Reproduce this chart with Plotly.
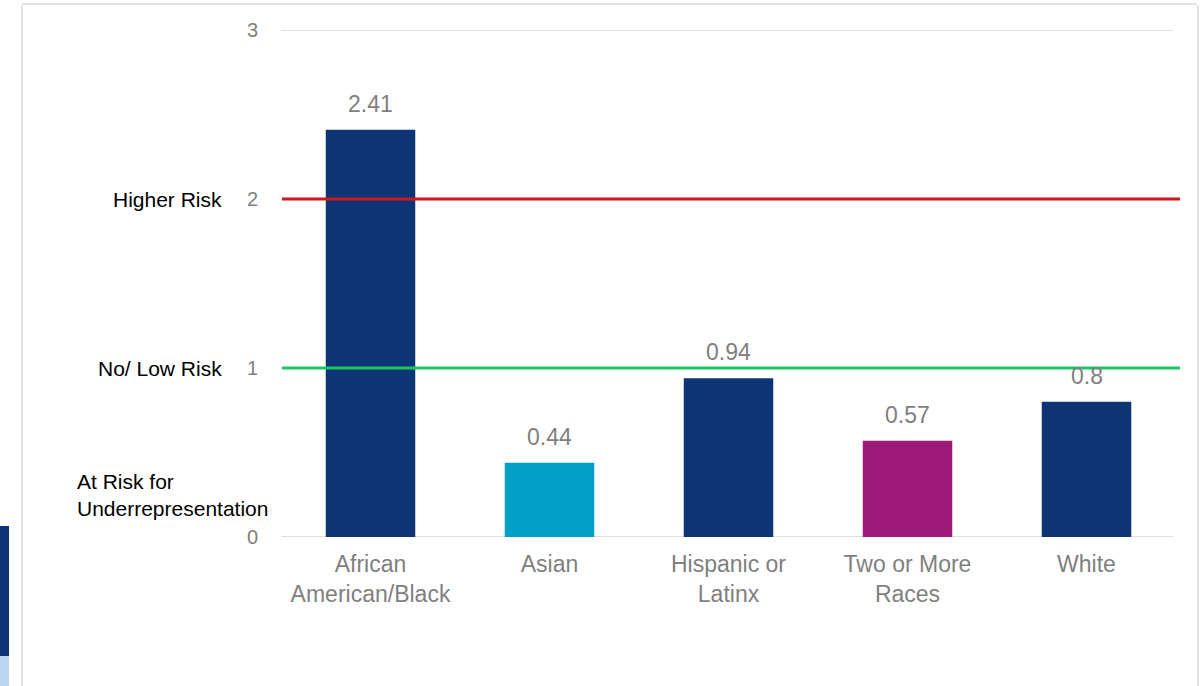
import plotly.graph_objects as go

# Representation index by race/ethnicity
categories = ["African<br>American/Black", "Asian", "Hispanic or<br>Latinx",
              "Two or More<br>Races", "White"]
values = [2.41, 0.44, 0.94, 0.57, 0.8]
value_labels = ["2.41", "0.44", "0.94", "0.57", "0.8"]
bar_colors = ["#0d3475", "#00a0c9", "#0d3475", "#9e1a7a", "#0d3475"]

y_ticks = [0, 1, 2, 3]
y_tick_text = ["0", "1", "2", "3"]
grid_values = [0, 3]

# Threshold reference lines
thresholds = [2, 1]
threshold_colors = ["#c81a1e", "#1cc566"]

# Risk band labels on the left
band_labels = ["Higher Risk", "No/ Low Risk", "At Risk for<br>Underrepresentation"]
band_y = [2, 1, 0.25]

FONT = "Arial, Liberation Sans, sans-serif"
GRAY = "#7f7f7f"

fig = go.Figure()
fig.add_trace(go.Bar(
    x=categories, y=values,
    marker=dict(color=bar_colors, line=dict(width=0)),
    width=0.5,
    hoverinfo="skip",
))

L, R, T, B = 281, 28, 30, 149
W, H = 1204, 686
plot_w = W - L - R
plot_h = H - T - B


def px_x(px):
    return (px - L) / plot_w


def px_y(py):
    return (H - B - py) / plot_h


annotations = []
for cat, v, lab in zip(categories, values, value_labels):
    annotations.append(dict(
        x=cat, y=v, xref="x", yref="y", text=lab, showarrow=False,
        yanchor="bottom", yshift=11,
        font=dict(family=FONT, size=23, color=GRAY),
    ))

# Band labels
annotations.append(dict(x=px_x(224), y=band_y[0], xref="paper", yref="y", text=band_labels[0],
                        showarrow=False, xanchor="right", yanchor="middle",
                        font=dict(family=FONT, size=21, color="#000000")))
annotations.append(dict(x=px_x(224), y=band_y[1], xref="paper", yref="y", text=band_labels[1],
                        showarrow=False, xanchor="right", yanchor="middle",
                        font=dict(family=FONT, size=21, color="#000000")))
annotations.append(dict(x=px_x(75), y=band_y[2], xref="paper", yref="y", text=band_labels[2],
                        showarrow=False, xanchor="left", yanchor="middle", align="left",
                        font=dict(family=FONT, size=21, color="#000000")))

shapes = []
# Light horizontal gridlines at the ends of the value axis
for yv in grid_values:
    shapes.append(dict(type="line", xref="paper", yref="y",
                       x0=0, x1=px_x(1173), y0=yv, y1=yv,
                       line=dict(color="#d4d4d4", width=1.5), layer="below"))

for yv, col in zip(thresholds, threshold_colors):
    shapes.append(dict(type="line", xref="paper", yref="y",
                       x0=px_x(282), x1=px_x(1180), y0=yv, y1=yv,
                       line=dict(color=col, width=3), layer="above"))

# Slide frame and neighbouring edge visible around the chart
frame = "#e3e3e3"
shapes += [
    dict(type="line", xref="paper", yref="paper", x0=px_x(22), x1=px_x(22),
         y0=px_y(5), y1=px_y(H), line=dict(color=frame, width=2)),
    dict(type="line", xref="paper", yref="paper", x0=px_x(22), x1=px_x(1197),
         y0=px_y(4), y1=px_y(4), line=dict(color=frame, width=2)),
    dict(type="line", xref="paper", yref="paper", x0=px_x(1198), x1=px_x(1198),
         y0=px_y(5), y1=px_y(H), line=dict(color=frame, width=2)),
    dict(type="rect", xref="paper", yref="paper", x0=px_x(0), x1=px_x(9),
         y0=px_y(656), y1=px_y(526), fillcolor="#0d3475", line=dict(width=0)),
    dict(type="rect", xref="paper", yref="paper", x0=px_x(0), x1=px_x(9),
         y0=px_y(H), y1=px_y(656), fillcolor="#bcd6f2", line=dict(width=0)),
]

fig.update_layout(
    width=W, height=H,
    margin=dict(l=L, r=R, t=T, b=B, pad=0),
    paper_bgcolor="white", plot_bgcolor="white",
    showlegend=False,
    bargap=0.5,
    annotations=annotations,
    shapes=shapes,
    xaxis=dict(
        showgrid=False, zeroline=False, showline=False, ticks="",
        tickfont=dict(family=FONT, size=23, color=GRAY),
        ticklabelstandoff=11,
        fixedrange=True,
    ),
    yaxis=dict(
        range=[0, 3], tickvals=y_ticks, ticktext=y_tick_text,
        showgrid=False, zeroline=False, showline=False, ticks="",
        tickfont=dict(family=FONT, size=20, color=GRAY),
        ticklabelstandoff=22,
        fixedrange=True,
    ),
)

fig.write_html("out.html", config={"displayModeBar": False})
